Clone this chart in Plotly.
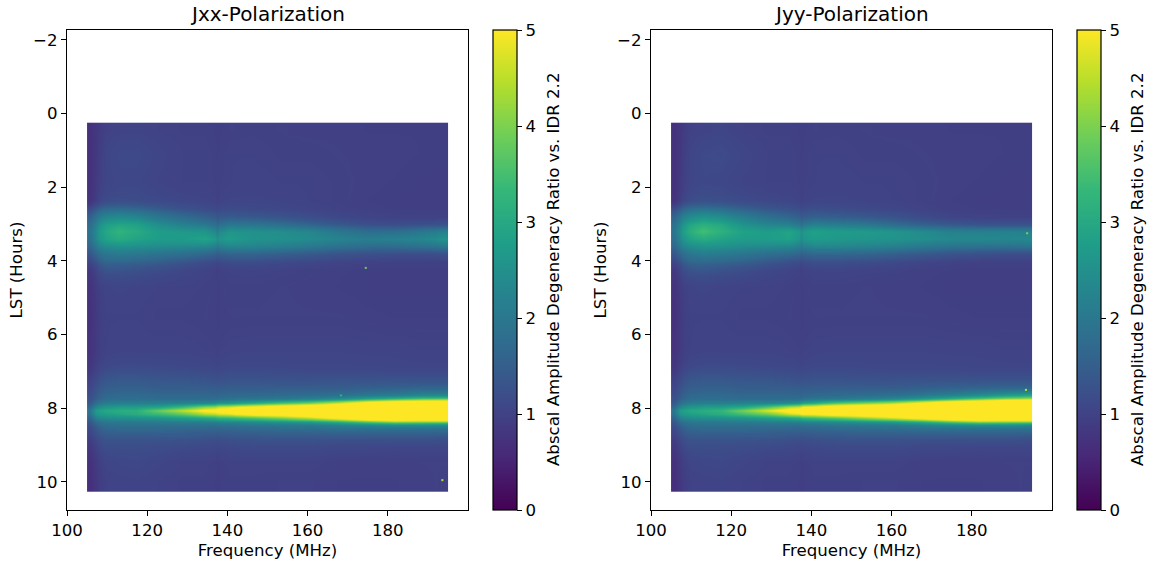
import plotly.graph_objects as go

W, H = 1154, 563

freq_edges = [105, 106.5, 108, 111, 115, 120, 126, 132, 136.8, 137.8, 143, 150, 157, 164, 171, 178, 185, 192, 195]
lst_edges = [0.25, 0.7, 1.5, 2.2, 2.5, 2.7, 2.9, 3.1, 3.3, 3.5, 3.7, 3.9, 4.1, 4.4, 5, 6, 6.8, 7.1, 7.35, 7.55,
             7.7, 7.8, 7.9, 8.0, 8.1, 8.2, 8.3, 8.4, 8.5, 8.65, 8.85, 9.2, 9.7, 10.25]

jxx = [
    [.72, .82, .98, 1.02, 1.03, 1.0, .98, .98, .92, .97, .98, .97, .96, .96, .95, .95, .95, .93],
    [.72, .85, 1.05, 1.12, 1.12, 1.05, 1.0, 1.0, .95, 1.0, 1.0, .98, .98, .97, .96, .96, .95, .94],
    [.72, .88, 1.05, 1.08, 1.08, 1.03, 1.0, 1.0, .96, 1.0, 1.02, 1.0, 1.0, .98, .96, .95, .93, .92],
    [.75, .95, 1.15, 1.2, 1.18, 1.12, 1.08, 1.05, .98, 1.05, 1.05, 1.03, 1.0, .98, .95, .93, .92, .92],
    [1.2, 1.45, 1.75, 1.8, 1.7, 1.5, 1.3, 1.2, 1.1, 1.18, 1.15, 1.1, 1.05, 1.0, .98, .95, .95, .95],
    [1.55, 1.9, 2.3, 2.4, 2.3, 2.0, 1.75, 1.55, 1.35, 1.45, 1.4, 1.3, 1.2, 1.1, 1.03, 1.0, 1.0, 1.0],
    [1.8, 2.2, 2.75, 2.95, 2.85, 2.45, 2.2, 2.0, 1.65, 2.0, 1.95, 1.8, 1.6, 1.4, 1.25, 1.2, 1.25, 1.3],
    [1.9, 2.4, 2.95, 3.25, 3.05, 2.75, 2.65, 2.6, 2.1, 2.6, 2.5, 2.45, 2.3, 2.0, 1.8, 1.8, 2.0, 2.2],
    [1.85, 2.35, 2.85, 3.05, 2.9, 2.75, 2.75, 2.9, 2.5, 2.75, 2.55, 2.5, 2.4, 2.25, 2.15, 2.2, 2.3, 2.55],
    [1.65, 2.05, 2.4, 2.5, 2.45, 2.4, 2.35, 2.3, 2.0, 2.3, 2.25, 2.15, 2.0, 1.85, 1.75, 1.75, 1.85, 2.0],
    [1.35, 1.65, 1.95, 2.05, 2.0, 1.9, 1.8, 1.65, 1.45, 1.6, 1.6, 1.5, 1.4, 1.3, 1.25, 1.2, 1.2, 1.25],
    [1.1, 1.3, 1.65, 1.65, 1.6, 1.5, 1.35, 1.2, 1.1, 1.2, 1.2, 1.15, 1.1, 1.05, 1.02, 1.0, 1.0, 1.0],
    [.85, 1.05, 1.3, 1.3, 1.25, 1.18, 1.08, 1.02, .95, 1.02, 1.03, 1.0, .98, .96, .94, .93, .93, .93],
    [.75, .92, 1.03, 1.05, 1.03, 1.0, 1.0, .98, .95, .98, .98, .97, .96, .95, .93, .92, .92, .92],
    [.72, .88, 1.0, 1.0, 1.0, .98, .98, .97, .94, .97, .97, .97, .97, .97, .96, .95, .95, .95],
    [.75, .9, 1.0, 1.02, 1.02, 1.02, 1.02, 1.0, .97, 1.02, 1.03, 1.03, 1.03, 1.03, 1.02, 1.02, 1.0, 1.0],
    [.85, 1.0, 1.15, 1.2, 1.2, 1.18, 1.15, 1.13, 1.08, 1.13, 1.13, 1.12, 1.1, 1.1, 1.1, 1.08, 1.08, 1.08],
    [1.0, 1.15, 1.35, 1.4, 1.4, 1.35, 1.35, 1.3, 1.25, 1.3, 1.3, 1.28, 1.28, 1.3, 1.3, 1.3, 1.3, 1.3],
    [1.1, 1.3, 1.5, 1.55, 1.55, 1.5, 1.5, 1.5, 1.45, 1.5, 1.5, 1.5, 1.5, 1.5, 1.55, 1.6, 1.65, 1.65],
    [1.2, 1.4, 1.65, 1.7, 1.7, 1.65, 1.65, 1.65, 1.6, 1.7, 1.7, 1.75, 1.8, 1.85, 2.0, 2.1, 2.3, 2.3],
    [1.3, 1.55, 1.8, 1.85, 1.85, 1.85, 1.85, 1.85, 1.85, 2.0, 2.1, 2.2, 2.4, 2.7, 3.3, 3.8, 4.2, 4.3],
    [1.4, 1.8, 2.1, 2.15, 2.15, 2.15, 2.2, 2.3, 2.5, 2.6, 3.0, 3.5, 3.9, 4.6, 5.5, 6, 6, 6],
    [1.7, 2.3, 2.6, 2.75, 2.75, 2.9, 3.4, 4.1, 4.4, 4.7, 5.3, 5.8, 6.2, 6.5, 7, 7.5, 7.5, 7.5],
    [2.0, 2.75, 3.0, 3.1, 3.2, 3.9, 4.6, 5.3, 5.6, 5.6, 6, 6.2, 6.5, 7, 7.5, 8, 8, 8],
    [1.9, 2.6, 2.8, 2.95, 3.1, 3.4, 3.8, 4.4, 4.6, 4.8, 5.4, 5.6, 6, 6.5, 7, 7.5, 7.5, 7.5],
    [1.6, 2.2, 2.4, 2.45, 2.5, 2.6, 2.8, 3.0, 3.2, 3.3, 3.6, 4.0, 4.5, 5.2, 6, 6.5, 6.5, 6.5],
    [1.4, 1.8, 2.05, 2.1, 2.1, 2.15, 2.2, 2.25, 2.35, 2.4, 2.55, 2.7, 2.9, 3.3, 3.9, 4.4, 4.3, 4.3],
    [1.25, 1.55, 1.8, 1.85, 1.85, 1.85, 1.85, 1.85, 1.85, 1.9, 2.0, 2.05, 2.1, 2.25, 2.4, 2.5, 2.5, 2.4],
    [1.1, 1.35, 1.6, 1.65, 1.65, 1.65, 1.6, 1.6, 1.55, 1.6, 1.65, 1.7, 1.7, 1.75, 1.75, 1.75, 1.75, 1.75],
    [1.0, 1.2, 1.4, 1.4, 1.4, 1.4, 1.4, 1.35, 1.3, 1.35, 1.38, 1.4, 1.4, 1.4, 1.4, 1.4, 1.4, 1.35],
    [.85, 1.02, 1.2, 1.2, 1.2, 1.18, 1.15, 1.12, 1.08, 1.12, 1.15, 1.15, 1.15, 1.1, 1.1, 1.08, 1.08, 1.08],
    [.72, .9, 1.05, 1.08, 1.1, 1.05, 1.0, 1.0, .95, 1.0, 1.0, 1.0, 1.0, .97, .96, .96, .97, .97],
    [.68, .85, 1.0, 1.02, 1.03, 1.0, .98, .98, .92, .98, .98, .97, .97, .95, .95, .95, .96, .98],
]

jyy = [
    [.72, .82, .98, 1.02, 1.05, 1.0, .98, .98, .92, .97, .98, .97, .96, .96, .95, .95, .95, .93],
    [.72, .85, 1.05, 1.12, 1.14, 1.06, 1.0, 1.0, .95, 1.0, 1.0, .98, .98, .97, .96, .96, .95, .94],
    [.72, .88, 1.05, 1.1, 1.08, 1.03, 1.0, 1.0, .96, 1.0, 1.02, 1.0, 1.0, .98, .96, .95, .93, .92],
    [.75, .95, 1.18, 1.25, 1.22, 1.15, 1.1, 1.06, .98, 1.05, 1.05, 1.03, 1.0, .98, .95, .93, .92, .92],
    [1.25, 1.5, 1.85, 1.95, 1.85, 1.6, 1.4, 1.3, 1.15, 1.25, 1.2, 1.15, 1.08, 1.02, .98, .95, .95, .95],
    [1.6, 2.0, 2.4, 2.6, 2.45, 2.15, 1.85, 1.65, 1.4, 1.55, 1.5, 1.4, 1.3, 1.15, 1.05, 1.02, 1.0, 1.0],
    [1.85, 2.3, 2.9, 3.15, 3.0, 2.55, 2.3, 2.2, 1.8, 2.2, 2.1, 2.0, 1.75, 1.55, 1.4, 1.3, 1.3, 1.3],
    [1.95, 2.5, 3.1, 3.5, 3.2, 2.85, 2.75, 2.9, 2.5, 2.85, 2.75, 2.7, 2.6, 2.4, 2.2, 2.2, 2.2, 2.2],
    [1.85, 2.35, 2.85, 3.05, 2.9, 2.75, 2.75, 2.85, 2.4, 2.75, 2.65, 2.6, 2.55, 2.45, 2.35, 2.35, 2.3, 2.35],
    [1.65, 2.05, 2.4, 2.55, 2.5, 2.4, 2.35, 2.3, 2.0, 2.3, 2.3, 2.25, 2.15, 2.0, 1.9, 1.85, 1.85, 1.9],
    [1.35, 1.65, 1.95, 2.1, 2.05, 1.95, 1.8, 1.7, 1.5, 1.65, 1.65, 1.6, 1.5, 1.4, 1.3, 1.25, 1.2, 1.2],
    [1.1, 1.3, 1.65, 1.7, 1.65, 1.55, 1.4, 1.25, 1.15, 1.25, 1.25, 1.2, 1.15, 1.08, 1.03, 1.0, 1.0, 1.0],
    [.85, 1.05, 1.3, 1.35, 1.28, 1.2, 1.1, 1.04, .97, 1.04, 1.05, 1.02, 1.0, .97, .95, .93, .93, .93],
    [.75, .92, 1.03, 1.05, 1.03, 1.0, 1.0, .98, .95, .98, .98, .97, .96, .95, .93, .92, .92, .92],
    [.72, .88, 1.0, 1.0, 1.0, .98, .98, .97, .94, .97, .97, .97, .97, .97, .96, .95, .95, .95],
    [.75, .9, 1.0, 1.02, 1.02, 1.02, 1.02, 1.0, .97, 1.02, 1.03, 1.03, 1.03, 1.03, 1.02, 1.02, 1.0, 1.0],
    [.85, 1.0, 1.15, 1.2, 1.2, 1.18, 1.15, 1.13, 1.08, 1.13, 1.13, 1.12, 1.1, 1.1, 1.1, 1.08, 1.08, 1.08],
    [1.0, 1.15, 1.35, 1.4, 1.4, 1.35, 1.35, 1.3, 1.25, 1.3, 1.3, 1.28, 1.28, 1.3, 1.3, 1.3, 1.3, 1.3],
    [1.1, 1.3, 1.5, 1.55, 1.55, 1.5, 1.5, 1.5, 1.45, 1.5, 1.5, 1.5, 1.5, 1.55, 1.6, 1.65, 1.7, 1.7],
    [1.2, 1.4, 1.65, 1.7, 1.7, 1.65, 1.65, 1.65, 1.6, 1.7, 1.75, 1.8, 1.85, 2.0, 2.2, 2.4, 2.7, 2.9],
    [1.3, 1.55, 1.8, 1.85, 1.85, 1.85, 1.85, 1.85, 1.9, 2.1, 2.2, 2.35, 2.6, 3.0, 3.6, 4.2, 4.8, 5.0],
    [1.4, 1.8, 2.1, 2.15, 2.15, 2.2, 2.25, 2.4, 2.7, 3.0, 3.6, 4.0, 4.4, 5.2, 6, 6.5, 6.5, 6.5],
    [1.7, 2.3, 2.6, 2.75, 2.8, 3.0, 3.6, 4.4, 4.8, 5.2, 5.8, 6.2, 6.5, 7, 7.5, 8, 8, 8],
    [2.0, 2.75, 3.0, 3.1, 3.3, 4.0, 4.8, 5.6, 5.8, 6, 6.5, 6.8, 7, 7.5, 8, 8.5, 8.5, 8.5],
    [1.9, 2.6, 2.8, 2.95, 3.1, 3.5, 3.9, 4.6, 5, 5.1, 5.6, 5.8, 6.2, 6.5, 7, 7.5, 7.5, 7.5],
    [1.6, 2.2, 2.4, 2.45, 2.5, 2.6, 2.8, 3.0, 3.2, 3.4, 3.7, 4.2, 4.7, 5.3, 6, 6.5, 6.5, 6.5],
    [1.4, 1.8, 2.05, 2.1, 2.1, 2.15, 2.2, 2.25, 2.35, 2.4, 2.55, 2.7, 2.9, 3.3, 3.9, 4.4, 4.3, 4.3],
    [1.25, 1.55, 1.8, 1.85, 1.85, 1.85, 1.85, 1.85, 1.85, 1.9, 2.0, 2.05, 2.1, 2.25, 2.4, 2.5, 2.5, 2.4],
    [1.1, 1.35, 1.6, 1.65, 1.65, 1.65, 1.6, 1.6, 1.55, 1.6, 1.65, 1.7, 1.7, 1.75, 1.75, 1.75, 1.75, 1.75],
    [1.0, 1.2, 1.4, 1.4, 1.4, 1.4, 1.4, 1.35, 1.3, 1.35, 1.38, 1.4, 1.4, 1.4, 1.4, 1.4, 1.4, 1.35],
    [.85, 1.02, 1.2, 1.2, 1.2, 1.18, 1.15, 1.12, 1.08, 1.12, 1.15, 1.15, 1.15, 1.1, 1.1, 1.08, 1.08, 1.08],
    [.72, .9, 1.05, 1.08, 1.1, 1.05, 1.0, 1.0, .95, 1.0, 1.0, 1.0, 1.0, .97, .96, .96, .97, .97],
    [.68, .85, 1.0, 1.02, 1.03, 1.0, .98, .98, .92, .98, .98, .97, .97, .95, .95, .95, .96, .98],
]

# isolated outlier pixels: frequency, LST, ratio
jxx_speck_freq = [174.5, 193.6, 168.3]
jxx_speck_lst = [4.19, 9.95, 7.65]
jxx_speck_val = [3.9, 4.5, 3.2]
jyy_speck_freq = [193.5, 193.8]
jyy_speck_lst = [7.5, 3.25]
jyy_speck_val = [4.5, 4.0]

titles = ["Jxx-Polarization", "Jyy-Polarization"]
cbar_label = "Abscal Amplitude Degeneracy Ratio vs. IDR 2.2"
x_label = "Frequency (MHz)"
y_label = "LST (Hours)"
x_ticks = [100, 120, 140, 160, 180]
y_ticks = [-2, 0, 2, 4, 6, 8, 10]
cbar_ticks = [0, 1, 2, 3, 4, 5]

FONT = "DejaVu Sans"
TICK = 16.6
top, bottom = 30, 510
panels = [(67, 468, 493), (651, 1052, 1077)]
specks = [(jxx_speck_freq, jxx_speck_lst, jxx_speck_val), (jyy_speck_freq, jyy_speck_lst, jyy_speck_val)]


def fx(px):
    return px / W


fig = go.Figure()
axis = dict(
    showgrid=False, zeroline=False, showline=True, mirror=True, linecolor="black", linewidth=1.2,
    ticks="outside", ticklen=5, tickwidth=1.1, tickcolor="black", automargin=False,
    tickfont=dict(family=FONT, size=TICK, color="black"),
)
for i, ((x0, x1, cb), z, title, sp) in enumerate(zip(panels, [jxx, jyy], titles, specks)):
    s = "" if i == 0 else "2"
    fig.add_trace(go.Heatmap(
        x=freq_edges, y=lst_edges, z=z, zmin=0, zmax=5, colorscale="Viridis", zsmooth="best",
        xaxis="x" + s, yaxis="y" + s, hoverinfo="skip",
        colorbar=dict(
            x=fx(cb), xanchor="left", xpad=0, y=1 - bottom / H, yanchor="bottom", ypad=0,
            thickness=24, thicknessmode="pixels", len=(bottom - top) / H, lenmode="fraction",
            outlinecolor="black", outlinewidth=1.2,
            tickvals=cbar_ticks, ticks="outside", ticklen=5, tickwidth=1.1, tickcolor="black",
            tickfont=dict(family=FONT, size=TICK, color="black"),
        ),
    ))
    fig.add_trace(go.Scatter(
        x=sp[0], y=sp[1], mode="markers", xaxis="x" + s, yaxis="y" + s, hoverinfo="skip", showlegend=False,
        marker=dict(symbol="square", size=2, color=sp[2], cmin=0, cmax=5, colorscale="Viridis", line_width=0),
    ))
    fig.update_layout({
        "xaxis" + s: dict(axis, domain=[fx(x0), fx(x1)], range=[100, 200], tickvals=x_ticks, anchor="y" + s,
                          title=dict(text=x_label, standoff=5, font=dict(family=FONT, size=TICK, color="black"))),
        "yaxis" + s: dict(axis, domain=[1 - bottom / H, 1 - top / H], range=[10.76, -2.266], tickvals=y_ticks,
                          anchor="x" + s,
                          title=dict(text=y_label, standoff=6, font=dict(family=FONT, size=TICK, color="black"))),
    })
    fig.add_annotation(text=title, x=fx((x0 + x1) / 2), y=1 - top / H, xref="paper", yref="paper", yshift=2,
                       xanchor="center", yanchor="bottom", showarrow=False,
                       font=dict(family=FONT, size=20, color="black"))
    fig.add_annotation(text=cbar_label, x=fx(cb + 60), y=1 - (top + bottom) / 2 / H, xref="paper", yref="paper",
                       xanchor="center", yanchor="middle", textangle=-90, showarrow=False,
                       font=dict(family=FONT, size=TICK, color="black"))

fig.update_layout(width=W, height=H, margin=dict(l=0, r=0, t=0, b=0), autosize=False,
                  paper_bgcolor="white", plot_bgcolor="white", showlegend=False)
fig.write_html("out.html", config={"displayModeBar": False},
               post_script="document.body.style.margin='0';document.documentElement.style.overflow='hidden';")
